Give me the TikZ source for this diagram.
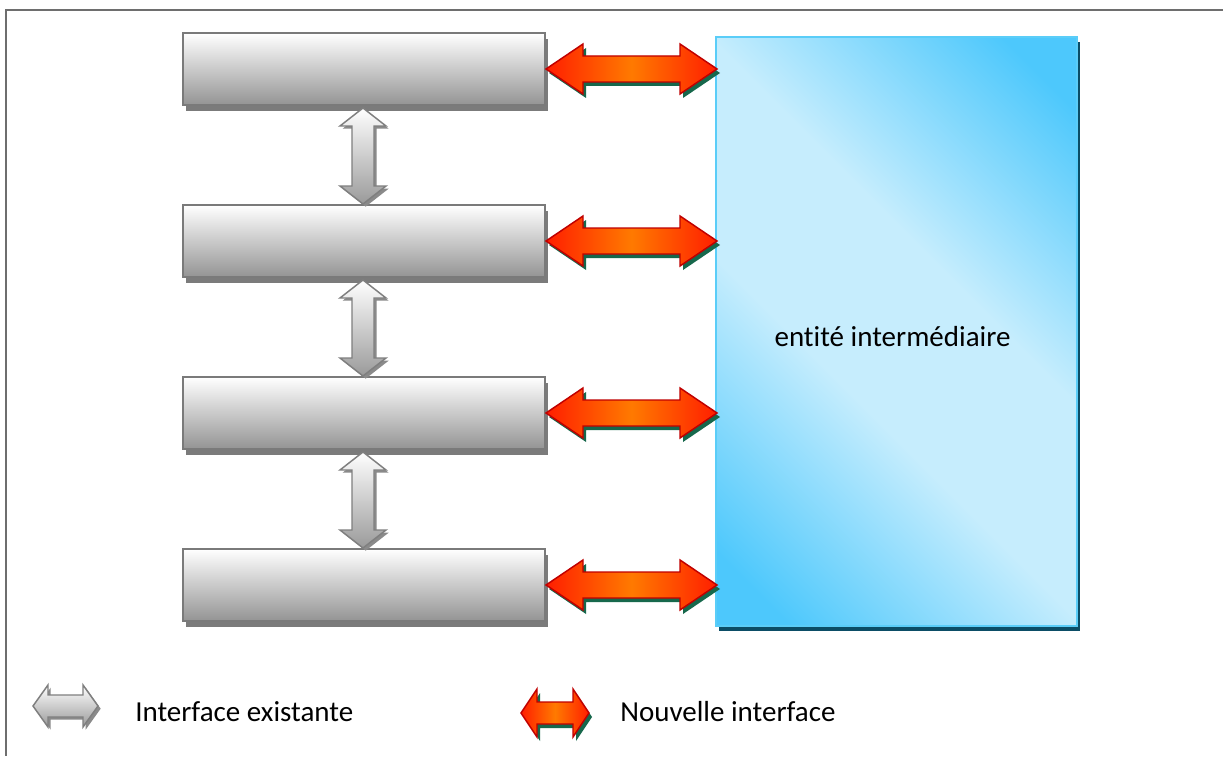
\documentclass[tikz,border=0pt]{standalone}
\usepackage{fontspec}
\setmainfont{Carlito}[Ligatures=NoCommon]
\usetikzlibrary{shadows,calc}
\definecolor{framegray}{HTML}{6E6E6E}
\definecolor{rred}{HTML}{FF1E00}
\definecolor{rorange}{HTML}{FF7A00}
\definecolor{redline}{HTML}{C00000}
\definecolor{redshadow}{HTML}{17684C}
\definecolor{boxedge}{HTML}{7A7A7A}
\definecolor{boxbottom}{HTML}{949494}
\definecolor{boxshadow}{HTML}{7B7B7B}
\definecolor{bdark}{HTML}{4DC8FC}
\definecolor{blight}{HTML}{C6EDFD}
\definecolor{bigedge}{HTML}{5ACDF8}
\definecolor{bigshadow}{HTML}{0B4D66}
\definecolor{garrowline}{HTML}{7F7F7F}
\definecolor{garrowbottom}{HTML}{9A9A9A}
\definecolor{garrowshadow}{HTML}{8A8A8A}
\pgfdeclarehorizontalshading{bluebands}{100bp}{color(0bp)=(bdark); color(20bp)=(bdark); color(42bp)=(blight); color(58bp)=(blight); color(80bp)=(bdark); color(100bp)=(bdark)}
% horizontal double block arrow: #1 options, #2 from, #3 to, #4 head length, #5 head half width, #6 shaft half width
\newcommand{\hpoly}[6]{%
  \path[#1] let \p1=(#2), \p2=(#3) in
    (\x1,\y1) -- ({\x1+#4},{\y1+#5}) -- ({\x1+#4},{\y1+#6}) -- ({\x2-#4},{\y1+#6})
    -- ({\x2-#4},{\y1+#5}) -- (\x2,\y1) -- ({\x2-#4},{\y1-#5}) -- ({\x2-#4},{\y1-#6})
    -- ({\x1+#4},{\y1-#6}) -- ({\x1+#4},{\y1-#5}) -- cycle;}
% vertical double block arrow (from top tip #2 to bottom tip #3)
\newcommand{\vpoly}[6]{%
  \path[#1] let \p1=(#2), \p2=(#3) in
    (\x1,\y1) -- ({\x1+#5},{\y1-#4}) -- ({\x1+#6},{\y1-#4}) -- ({\x1+#6},{\y2+#4})
    -- ({\x1+#5},{\y2+#4}) -- (\x1,\y2) -- ({\x1-#5},{\y2+#4}) -- ({\x1-#6},{\y2+#4})
    -- ({\x1-#6},{\y1-#4}) -- ({\x1-#5},{\y1-#4}) -- cycle;}
\newcommand{\redarrow}[5]{%
  \begin{scope}[transform canvas={shift={(2.25pt,-3pt)}}]
    \hpoly{fill=redshadow}{#1}{#2}{#3}{#4}{#5}
  \end{scope}
  \hpoly{redfill}{#1}{#2}{#3}{#4}{#5}}
\newcommand{\grayharrow}[5]{%
  \begin{scope}[transform canvas={shift={(2pt,-2pt)}}]
    \hpoly{fill=garrowshadow}{#1}{#2}{#3}{#4}{#5}
  \end{scope}
  \hpoly{grayfill}{#1}{#2}{#3}{#4}{#5}}
\newcommand{\grayvarrow}[5]{%
  \begin{scope}[transform canvas={shift={(2pt,-2pt)}}]
    \vpoly{fill=garrowshadow}{#1}{#2}{#3}{#4}{#5}
  \end{scope}
  \vpoly{grayfill}{#1}{#2}{#3}{#4}{#5}}
\begin{document}
\begin{tikzpicture}[x=0.75pt,y=-0.75pt,
  graybox/.style={rectangle, draw=boxedge, line width=1.5pt, minimum width=271.5pt,
    minimum height=54pt, inner sep=0pt, top color=white, bottom color=boxbottom,
    drop shadow={shadow xshift=2.25pt, shadow yshift=-4.5pt, fill=boxshadow, opacity=1}},
  bigbox/.style={rectangle, draw=bigedge, line width=1.5pt, minimum width=270.75pt,
    minimum height=441.75pt, inner sep=0pt, shading=bluebands, shading angle=45,
    drop shadow={shadow xshift=2.25pt, shadow yshift=-3.75pt, fill=bigshadow, opacity=1},
    font=\fontsize{21.75pt}{26pt}\selectfont},
  redfill/.style={left color=rred, right color=rred, middle color=rorange,
    draw=redline, line width=1.1pt, line join=miter},
  grayfill/.style={top color=white, bottom color=garrowbottom,
    draw=garrowline, line width=1.1pt, line join=miter},
  legendtext/.style={anchor=base west, inner sep=0pt, font=\fontsize{21.75pt}{26pt}\selectfont}]
\useasboundingbox (0,0) rectangle (1223,756);
\fill[white] (0,0) rectangle (1223,756);
\draw[framegray, line width=1.5pt] (1223,10) -- (6,10) -- (6,756);

\node[graybox] (b1) at (364,69) {};
\node[graybox] (b2) at (364,241) {};
\node[graybox] (b3) at (364,413) {};
\node[graybox] (b4) at (364,585) {};
\node[bigbox] (big) at (896.5,331.5) {\raisebox{-11pt}[0pt][0pt]{entité intermédiaire\hspace{6pt}}};

% new interfaces (red)
\redarrow{b1.east}{$(big.west |- b1.east)+(2,0)$}{27.75pt}{18.75pt}{9.75pt}
\redarrow{b2.east}{$(big.west |- b2.east)+(2,0)$}{27.75pt}{18.75pt}{9.75pt}
\redarrow{b3.east}{$(big.west |- b3.east)+(2,0)$}{27.75pt}{18.75pt}{9.75pt}
\redarrow{b4.east}{$(big.west |- b4.east)+(2,0)$}{27.75pt}{18.75pt}{9.75pt}

% existing interfaces (gray)
\grayvarrow{$(b1.south)+(-1,2)$}{$(b2.north)+(-1,0)$}{13.5pt}{17.25pt}{8.25pt}
\grayvarrow{$(b2.south)+(-1,2)$}{$(b3.north)+(-1,0)$}{13.5pt}{17.25pt}{8.25pt}
\grayvarrow{$(b3.south)+(-1,2)$}{$(b4.north)+(-1,0)$}{13.5pt}{17.25pt}{8.25pt}

% legend
\coordinate (lg1) at (33,706);
\coordinate (lg2) at (98,706);
\coordinate (lr1) at (521,713);
\coordinate (lr2) at (589,713);
\grayharrow{lg1}{lg2}{11.25pt}{15.75pt}{8.25pt}
\redarrow{lr1}{lr2}{12pt}{18pt}{8.25pt}
\node[legendtext] (t1) at (135,721) {Interface existante};
\node[legendtext] (t2) at (620,721) {Nouvelle interface};
\end{tikzpicture}
\end{document}
